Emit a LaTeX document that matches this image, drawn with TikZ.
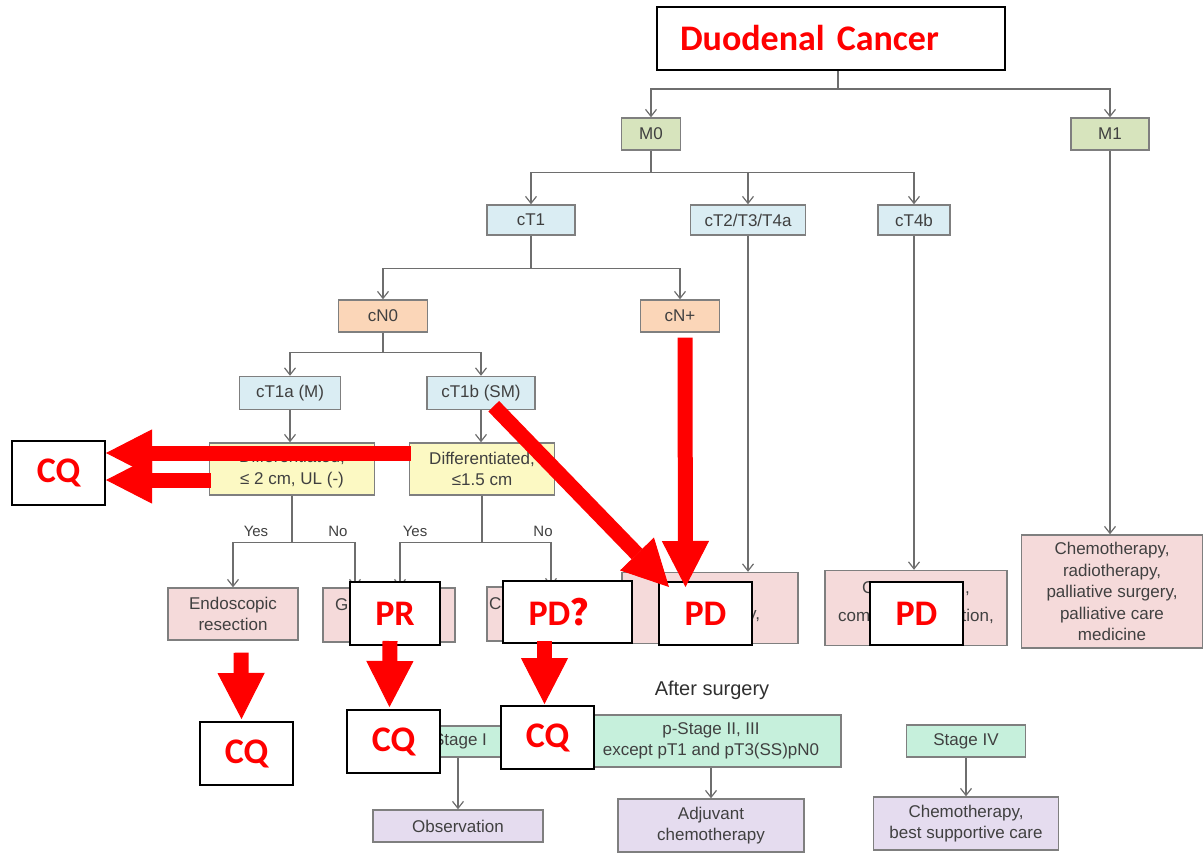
\documentclass[tikz,border=0pt]{standalone}
\usepackage{fontspec}
\setmainfont{Liberation Sans}
\newfontfamily\calib{Carlito}
\newfontfamily\cjk{Noto Sans CJK SC}
\usetikzlibrary{arrows.meta,positioning,calc}
\definecolor{boxgray}{HTML}{7F7F7F}
\definecolor{linegray}{HTML}{6E6E6E}
\definecolor{txtgray}{HTML}{404040}
\definecolor{afterblack}{HTML}{303030}
\definecolor{mgreen}{HTML}{D7E4BD}
\definecolor{cblue}{HTML}{DAEDF3}
\definecolor{corange}{HTML}{FBD6B8}
\definecolor{dyellow}{HTML}{FCF9C3}
\definecolor{tpink}{HTML}{F5DADA}
\definecolor{smint}{HTML}{C6F0DC}
\definecolor{plilac}{HTML}{E5DCEF}

\begin{document}
\begin{tikzpicture}[x=1pt, y=-1pt,
  gbox/.style={draw=boxgray, line width=1.4pt, align=center, inner sep=1pt, text=txtgray, font=\fontsize{17}{21.5}\selectfont},
  gtext/.style={text=txtgray, inner sep=0pt, font=\fontsize{17}{21.5}\selectfont},
  yesno/.style={text=txtgray, inner sep=0pt, font=\fontsize{15}{18}\selectfont},
  gline/.style={draw=linegray, line width=1.2pt},
  garrow/.style={draw=linegray, line width=1.2pt, -{Straight Barb[length=7pt,width=11pt]}},
  redlabel/.style={draw=black, fill=white, line width=2pt, text=red, inner sep=0pt, font=\calib\bfseries\fontsize{36}{40}\selectfont},
  redarrow/.style={draw=red, line width=15pt, -{Triangle[length=46pt,width=47pt,line width=1pt]}}
]
\useasboundingbox (0,0) rectangle (1204,853);

\node[redlabel, text width=302, inner xsep=23, align=left, minimum height=63] (dc) at (831,38.5) {Duodenal Cancer};

\node[gbox, fill=mgreen, minimum width=59, minimum height=32] (mzero) at (651,134) {M0};
\node[gbox, fill=mgreen, minimum width=78, minimum height=32] (mone) at (1110,134) {M1};
\node[gbox, fill=cblue, minimum width=88, minimum height=30] (ctone) at (531,220) {cT1};
\node[gbox, fill=cblue, minimum width=115, minimum height=30] (cttwo) at (748,220) {cT2/T3/T4a};
\node[gbox, fill=cblue, minimum width=72, minimum height=30] (ctfourb) at (914,220) {cT4b};
\node[gbox, fill=corange, minimum width=89, minimum height=32] (cnzero) at (383,316) {cN0};
\node[gbox, fill=corange, minimum width=79, minimum height=32] (cnplus) at (680,316) {cN+};
\node[gbox, fill=cblue, minimum width=101, minimum height=33] (ctonea) at (290,393) {cT1a (M)};
\node[gbox, fill=cblue, minimum width=108, minimum height=33] (ctoneb) at (481,393) {cT1b (SM)};
\node[gbox, fill=dyellow, minimum width=165, minimum height=52] (diffa) at (292,469) {Differentiated,\\≤ 2 cm, UL (-)};
\node[gbox, fill=dyellow, minimum width=145, minimum height=52] (diffb) at (482,469) {Differentiated,\\≤1.5 cm};
\node[gbox, fill=tpink, minimum width=130, minimum height=52] (endo) at (233,614) {Endoscopic\\resection};
\node[gbox, fill=tpink, minimum width=132, minimum height=54] (gast) at (389,615) {};
\node[gbox, fill=tpink, minimum width=128, minimum height=54] (pthree) at (551,614) {};
\node[gbox, fill=tpink, minimum width=176, minimum height=71] (pfour) at (710,608) {};
\node[gbox, fill=tpink, minimum width=182, minimum height=75] (pfive) at (916,608) {};
\node[gbox, fill=tpink, minimum width=181, minimum height=113] (chemo) at (1112,591.5) {Chemotherapy,\\radiotherapy,\\palliative surgery,\\palliative care\\medicine};

\node[gtext, anchor=base west] (gfrag) at (335,610) {G};
\node[gtext, anchor=base west] (cfrag) at (489,609) {C};
\node[gtext, anchor=base west] (yfrag) at (748,619) {y,};
\node[gtext, anchor=base west] (cfive) at (862,593) {C};
\node[gtext, anchor=base west] (commafive) at (965,593) {,};
\node[gtext, anchor=base west] (comfive) at (838,621) {com};
\node[gtext, anchor=base east] (tionfive) at (994,621) {tion,};

\draw[gline] ($(dc.south)+(7,0)$) -- ++(0,18) coordinate (fdc);
\draw[garrow] (fdc) -| (mzero.north);
\draw[garrow] (fdc) -| (mone.north);
\draw[gline] (mzero.south) -- ++(0,22) coordinate (fmzero);
\draw[garrow] (fmzero) -| (ctone.north);
\draw[garrow] (fmzero) -| (cttwo.north);
\draw[garrow] (fmzero) -| (ctfourb.north);
\draw[gline] (ctone.south) -- ++(0,33) coordinate (fctone);
\draw[garrow] (fctone) -| (cnzero.north);
\draw[garrow] (fctone) -| (cnplus.north);
\draw[gline] (cnzero.south) -- ++(0,20) coordinate (fcnzero);
\draw[garrow] (fcnzero) -| (ctonea.north);
\draw[garrow] (fcnzero) -| (ctoneb.north);
\draw[garrow] (ctonea.south) -- (ctonea.south |- diffa.north);
\draw[garrow] (ctoneb.south) -- (ctoneb.south |- diffb.north);
\draw[gline] (diffa.south) -- ++(0,47) coordinate (fdiffa);
\draw[garrow] (fdiffa) -| (endo.north);
\draw[garrow] (fdiffa) -| ($(gast.north)+(-34,0)$);
\draw[gline] (diffb.south) -- ++(0,47) coordinate (fdiffb);
\draw[garrow] (fdiffb) -| ($(gast.north)+(11,0)$);
\draw[garrow] (fdiffb) -| (pthree.north);
\draw[garrow] (cttwo.south) -- (cttwo.south |- pfour.north);
\draw[garrow] (ctfourb.south) -- (ctfourb.south |- pfive.north);
\draw[garrow] (mone.south) -- (mone.south |- chemo.north);

\node[yesno] (yesa) at (256,531) {Yes};
\node[yesno] (noa) at (338,531) {No};
\node[yesno] (yesb) at (415,531) {Yes};
\node[yesno] (nob) at (543,531) {No};

\node[text=afterblack, font=\fontsize{20}{24}\selectfont] (after) at (712,690) {After surgery};
\node[gbox, fill=smint, minimum width=120, minimum height=31] (stgone) at (460,741.5) {Stage I};
\node[gbox, fill=smint, minimum width=260, minimum height=52] (stgtwo) at (711,741) {p-Stage II, III\\except pT1 and pT3(SS)pN0};
\node[gbox, fill=smint, minimum width=119, minimum height=32] (stgfour) at (966,741) {Stage IV};
\node[gbox, fill=plilac, minimum width=170, minimum height=32] (obs) at (458,826) {Observation};
\node[gbox, fill=plilac, minimum width=186, minimum height=53] (adj) at (711,825.5) {Adjuvant\\chemotherapy};
\node[gbox, fill=plilac, minimum width=185, minimum height=53] (bsc) at (966,823.5) {Chemotherapy,\\best supportive care};
\draw[garrow] (obs.north |- stgone.south) -- (obs.north);
\draw[garrow] (stgtwo.south) -- (adj.north);
\draw[garrow] (stgfour.south) -- (bsc.north);

\node[redlabel, minimum width=93, minimum height=64] (cqleft) at (58.5,473) {CQ};
\node[redlabel, minimum width=90, minimum height=63] (pr) at (395,613.5) {PR};
\node[redlabel, minimum width=129, minimum height=62] (pdq) at (567.5,612) {PD{\cjk ？}};
\node[redlabel, minimum width=93, minimum height=63] (pdfour) at (705.5,613.5) {PD};
\node[redlabel, minimum width=93, minimum height=63] (pdfive) at (916.5,613.5) {PD};
\node[redlabel, minimum width=93, minimum height=63] (cqa) at (246.5,753.5) {CQ};
\node[redlabel, minimum width=93, minimum height=63] (cqb) at (393.5,741.5) {CQ};
\node[redlabel, minimum width=93, minimum height=63] (cqc) at (547.5,737.5) {CQ};

\draw[redarrow] ($(diffb.west)+(2,-16)$) -- ($(cqleft.east)+(0,-20)$);
\draw[redarrow] ($(diffa.west)+(2,11)$) -- ($(cqleft.east)+(0,7)$);
\draw[redarrow] ($(ctoneb.south east)+(-42,-4)$) -- ($(pdfour.north west)+(11,6)$);
\draw[redarrow] ($(cnplus.south)+(5,5)$) -- ($(pdfour.north)+(-20,6)$);
\draw[redarrow] ($(endo.south)+(8,12)$) -- ($(cqa.north)+(-5,-2)$);
\draw[redarrow] ($(pr.south)+(-5,-5)$) -- ($(cqb.north)+(-4,-2)$);
\draw[redarrow] ($(pdq.south)+(-23,-3)$) -- ($(cqc.north)+(-3,-1)$);
\end{tikzpicture}
\end{document}
